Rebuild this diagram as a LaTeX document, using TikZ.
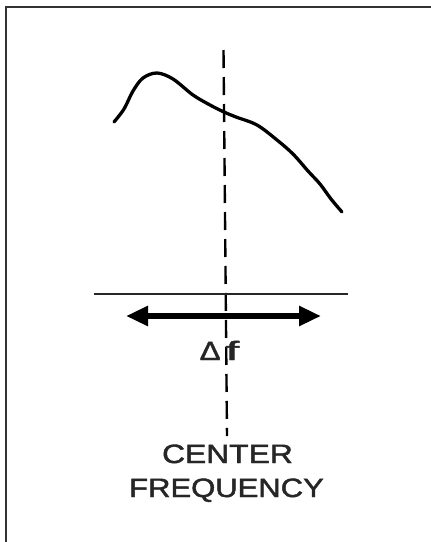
\documentclass[tikz,border=0pt]{standalone}
\usepackage{fontspec}
\setmainfont{Liberation Sans}
\usetikzlibrary{arrows.meta}
\begin{document}
\begin{tikzpicture}[x=1pt,y=-1pt,
  frame/.style={line width=2pt,draw=black!80},
  curve/.style={line width=3.3pt,line cap=round,line join=round},
  centerline/.style={line width=2.4pt,dash pattern=on 18pt off 9pt},
  baseline/.style={line width=2pt,draw=black!85},
  span/.style={line width=5.5pt,{Triangle[length=22pt,width=19pt]}-{Triangle[length=22pt,width=19pt]}},
  label/.style={font=\fontsize{26.5}{30}\selectfont\addfontfeature{FakeBold=1.6},inner sep=0pt,anchor=base,text=black!85}]
\useasboundingbox (0,0) rectangle (431,542);
\fill[white] (0,0) rectangle (431,542);
% frame
\coordinate (fTL) at (5.5,6.5);
\coordinate (fTR) at (431,6.5);
\coordinate (fBL) at (5.5,542);
\draw[frame] (fTR) -- (fTL) -- (fBL);
% response curve
\draw[curve] plot[smooth,tension=0.55] coordinates {(114,122) (124,109) (133,91) (143,78) (157,73) (173,79) (193,95) (210,105) (224,112) (236,117) (257,125) (277,140) (293,154) (308,171) (320,184) (331,199) (342,212)};
% center dashed line
\coordinate (cTop) at (223.5,50);
\coordinate (cBot) at (227,436);
\draw[centerline] (cTop) -- (cBot);
% horizontal base line
\coordinate (hL) at (94,294);
\coordinate (hR) at (348,294);
\draw[baseline] (hL) -- (hR);
% double arrow
\coordinate (aL) at (126,316);
\coordinate (aR) at (321,316);
\draw[span] (aL) -- (aR);
% labels
\node[label] (df) at (219.5,360) {\scalebox{1.18}[1]{Δ\kern4pt\scalebox{1.6}[1]{f}}};
\node[label] (c1) at (227.5,463) {\scalebox{1.2}[1]{CENTER}};
\node[label] (c2) at (226.5,497) {\scalebox{1.17}[1]{FREQUENCY}};
\end{tikzpicture}
\end{document}
